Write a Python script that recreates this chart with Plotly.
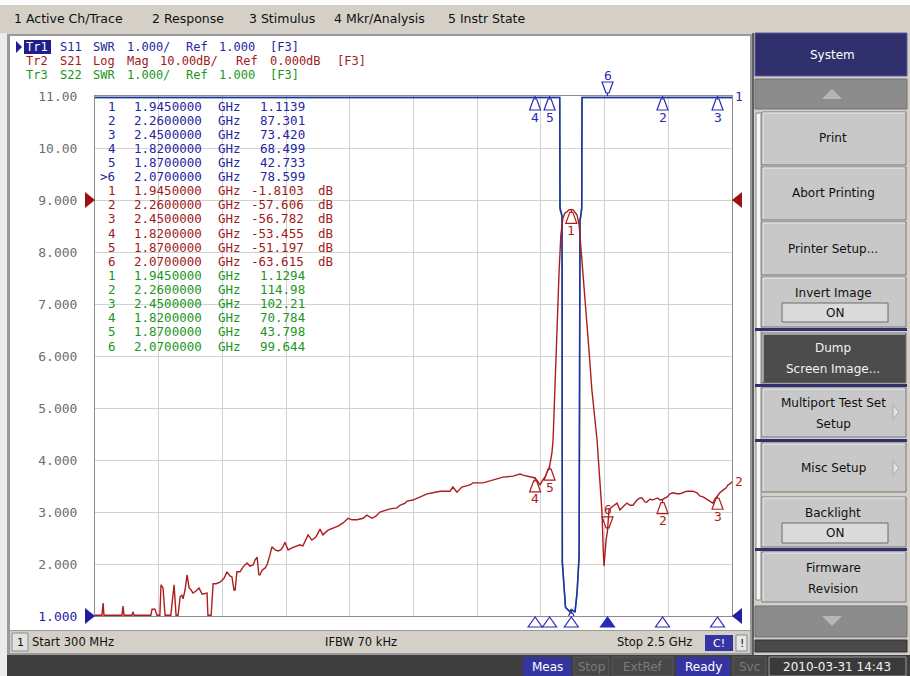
import numpy as np
import plotly.graph_objects as go

W, H = 910, 676

# ----------------------------- data -----------------------------
start_ghz = 0.3
stop_ghz = 2.5
freq_div_ghz = 0.22
swr_range = [1.0, 11.0]        # Tr1 / Tr3 : SWR 1.000/div, ref 1.000
db_range = [-80.0, 20.0]       # Tr2 : 10 dB/div, ref 0 dB

y_tick_vals = [1, 2, 3, 4, 5, 6, 7, 8, 9, 10, 11]
y_tick_labels = ["1.000", "2.000", "3.000", "4.000", "5.000", "6.000",
                 "7.000", "8.000", "9.000", "10.00", "11.00"]

marker_ids = ["1", "2", "3", "4", "5", "6"]
marker_ghz = [1.945, 2.26, 2.45, 1.82, 1.87, 2.07]
s11_marker_swr = [1.1139, 87.301, 73.420, 68.499, 42.733, 78.599]
s21_marker_db = [-1.8103, -57.606, -56.782, -53.455, -51.197, -63.615]
s22_marker_swr = [1.1294, 114.98, 102.21, 70.784, 43.798, 99.644]
active_marker = "6"

s21_ghz = [0.300, 0.324, 0.328, 0.331, 0.393, 0.397, 0.400, 0.428, 0.431, 0.435,
           0.493, 0.497, 0.507, 0.514, 0.524, 0.528, 0.535, 0.542, 0.562, 0.569,
           0.573, 0.580, 0.587, 0.594, 0.600, 0.604, 0.611, 0.618, 0.625, 0.632,
           0.638, 0.649, 0.659, 0.670, 0.680, 0.687, 0.690, 0.701, 0.708, 0.718,
           0.732, 0.746, 0.756, 0.766, 0.773, 0.780, 0.784, 0.790, 0.801, 0.811,
           0.825, 0.835, 0.846, 0.853, 0.860, 0.866, 0.870, 0.877, 0.887, 0.894,
           0.904, 0.911, 0.922, 0.932, 0.942, 0.949, 0.956, 0.967, 0.980, 0.998,
           1.008, 1.018, 1.029, 1.036, 1.049, 1.063, 1.077, 1.087, 1.105, 1.122,
           1.139, 1.157, 1.167, 1.174, 1.188, 1.205, 1.226, 1.239, 1.257, 1.270,
           1.284, 1.319, 1.343, 1.353, 1.371, 1.378, 1.398, 1.422, 1.447, 1.467,
           1.492, 1.526, 1.536, 1.550, 1.567, 1.595, 1.605, 1.640, 1.664, 1.688,
           1.709, 1.744, 1.768, 1.778, 1.802, 1.820, 1.830, 1.837, 1.847, 1.854,
           1.870, 1.878, 1.882, 1.889, 1.896, 1.903, 1.909, 1.916, 1.923, 1.930,
           1.937, 1.945, 1.951, 1.958, 1.965, 1.972, 1.982, 1.992, 2.006, 2.016,
           2.026, 2.034, 2.041, 2.044, 2.051, 2.055, 2.058, 2.065, 2.070, 2.075,
           2.086, 2.103, 2.113, 2.127, 2.137, 2.148, 2.158, 2.172, 2.182, 2.189,
           2.200, 2.206, 2.217, 2.224, 2.234, 2.244, 2.251, 2.260, 2.269, 2.276,
           2.286, 2.296, 2.310, 2.320, 2.334, 2.345, 2.355, 2.365, 2.379, 2.389,
           2.400, 2.406, 2.420, 2.434, 2.441, 2.450, 2.458, 2.469, 2.479, 2.486,
           2.493, 2.500]
s21_db = [-80.0, -80.0, -77.5, -80.0, -80.0, -78.1, -80.0, -80.0, -79.2, -80.0,
          -80.0, -78.7, -78.7, -80.0, -80.0, -74.0, -74.6, -80.0, -80.0, -75.6,
          -74.0, -80.0, -80.0, -76.3, -76.0, -76.7, -75.0, -72.1, -74.6, -75.0,
          -75.6, -75.2, -74.6, -75.8, -75.6, -75.6, -80.0, -80.0, -73.8, -73.8,
          -73.5, -72.7, -71.5, -72.3, -72.5, -75.0, -75.0, -71.5, -71.5, -70.6,
          -69.8, -70.4, -70.2, -69.2, -68.7, -72.1, -72.1, -71.2, -70.8, -70.2,
          -68.3, -66.7, -67.3, -67.5, -67.3, -66.7, -65.8, -67.3, -66.9, -66.5,
          -66.3, -66.5, -65.0, -64.4, -65.4, -64.8, -63.3, -64.4, -63.5, -63.1,
          -62.7, -62.1, -61.5, -61.2, -61.5, -61.5, -61.2, -60.6, -61.2, -60.8,
          -60.0, -59.4, -59.2, -58.7, -58.3, -57.9, -57.7, -57.1, -56.5, -56.3,
          -56.0, -56.0, -55.2, -56.2, -55.2, -54.8, -54.4, -54.4, -54.0, -53.5,
          -53.3, -53.1, -52.7, -52.9, -53.3, -53.455, -54.2, -54.8, -53.8, -53.3,
          -51.197, -48.7, -46.2, -34.6, -23.1, -13.5, -6.7, -3.5, -2.5, -2.3,
          -1.9, -1.8103, -1.9, -2.3, -2.9, -4.8, -11.5, -19.2, -28.8, -36.5,
          -42.3, -46.2, -51.9, -54.4, -60.0, -66.9, -70.4, -65.4, -63.615, -59.6,
          -59.0, -58.3, -59.6, -58.8, -58.3, -58.7, -58.7, -57.7, -57.3, -57.3,
          -58.1, -58.1, -57.5, -57.7, -57.5, -57.3, -57.7, -57.606, -57.3, -57.1,
          -56.5, -56.3, -56.5, -56.5, -56.2, -56.0, -56.0, -56.0, -56.3, -56.9,
          -57.1, -57.3, -57.7, -58.3, -57.5, -56.782, -56.3, -55.8, -55.4, -54.8,
          -54.6, -54.2]

s11_ghz = [0.30, 0.45, 0.60, 0.80, 1.00, 1.20, 1.40, 1.60, 1.70, 1.82, 1.87, 1.895,
           1.905, 1.906, 1.913, 1.914, 1.920, 1.925, 1.940, 1.945, 1.958, 1.965,
           1.972, 1.975, 1.981, 1.982, 2.00, 2.07, 2.15, 2.26, 2.35, 2.45, 2.50]
s11_swr = [96.0, 94.0, 91.0, 89.0, 86.0, 83.0, 79.0, 74.0, 71.0, 68.499, 42.733, 30.0,
           22.0, 8.85, 8.7, 2.04, 1.46, 1.17, 1.08, 1.1139, 1.08, 1.46,
           2.17, 8.6, 8.85, 24.0, 45.0, 78.599, 84.0, 87.301, 80.0, 73.420, 72.0]

s22_ghz = [0.30, 0.45, 0.60, 0.80, 1.00, 1.20, 1.40, 1.60, 1.70, 1.82, 1.87, 1.895,
           1.905, 1.906, 1.913, 1.914, 1.920, 1.925, 1.940, 1.945, 1.958, 1.965,
           1.972, 1.975, 1.981, 1.982, 2.00, 2.07, 2.15, 2.26, 2.35, 2.45, 2.50]
s22_swr = [110.0, 108.0, 105.0, 100.0, 95.0, 88.0, 80.0, 75.0, 72.0, 70.784, 43.798, 31.0,
           23.0, 8.82, 8.68, 2.02, 1.45, 1.16, 1.09, 1.1294, 1.09, 1.45,
           2.15, 8.58, 8.82, 26.0, 50.0, 99.644, 108.0, 114.98, 110.0, 102.21, 100.0]

menu_items = ["1 Active Ch/Trace", "2 Response", "3 Stimulus", "4 Mkr/Analysis", "5 Instr State"]
trace_headers = [("Tr1", "Tr1 S11 SWR 1.000/ Ref 1.000 [F3]"),
                 ("Tr2", "Tr2 S21 Log Mag 10.00dB/ Ref 0.000dB [F3]"),
                 ("Tr3", "Tr3 S22 SWR 1.000/ Ref 1.000 [F3]")]

# ----------------------------- style -----------------------------
BLUE = "#2a2ab8"
BLUE_T = "#2626a0"
RED = "#ac1e1e"
RED_T = "#a01a1a"
GREEN = "#1e9e1e"
GREEN_T = "#1c961c"
GRAY_BG = "#d4d0c8"
NAVY = "#30306c"
MONO = "DejaVu Sans Mono"
SANS = "DejaVu Sans"

# plot area in pixels
PX0, PX1, PY0, PY1 = 95, 732, 96, 616
dom_x = [PX0 / W, PX1 / W]
dom_y = [1 - PY1 / H, 1 - PY0 / H]


def X(p):
    return p / W


def Y(p):
    return 1 - p / H


shapes = []
ann = []


def R(x0, y0, x1, y1, fill, line=None, lw=1, layer="below"):
    shapes.append(dict(type="rect", xref="paper", yref="paper",
                       x0=X(x0), x1=X(x1), y0=Y(y1), y1=Y(y0),
                       fillcolor=fill, layer=layer,
                       line=dict(color=line if line else fill, width=lw if line else 0)))


def L(x0, y0, x1, y1, color, lw=1, layer="below"):
    shapes.append(dict(type="line", xref="paper", yref="paper",
                       x0=X(x0), x1=X(x1), y0=Y(y0), y1=Y(y1),
                       line=dict(color=color, width=lw), layer=layer))


def P(pts, fill, line=None, layer="above"):
    d = "M" + " L".join(f"{X(a):.5f},{Y(b):.5f}" for a, b in pts) + " Z"
    shapes.append(dict(type="path", xref="paper", yref="paper", path=d,
                       fillcolor=fill, layer=layer,
                       line=dict(color=line if line else fill, width=1 if line else 0)))


def T(x, y, s, size=12, color="#000000", fam=SANS, anchor="left"):
    ann.append(dict(x=X(x), y=Y(y), xref="paper", yref="paper", text=s,
                    showarrow=False, xanchor=anchor, yanchor="middle",
                    borderpad=0, borderwidth=0,
                    font=dict(family=fam, size=size, color=color)))


def mono_line(x0, y, s, color, cw=8.4, size=12.5, skip=()):
    i = 0
    n = len(s)
    while i < n:
        if s[i] == " ":
            i += 1
            continue
        j = i
        while j < n and s[j] != " ":
            j += 1
        tok = s[i:j]
        if tok not in skip:
            T(x0 + i * cw, y, tok, size=size, color=color, fam=MONO)
        i = j


def button(y0, y1, fill="#c8c8c8", x0=762, x1=906):
    R(x0, y0, x1, y1, fill, line="#767676")
    L(x0 + 1, y0 + 1, x1 - 1, y0 + 1, "#eeeeee")
    L(x0 + 1, y0 + 1, x0 + 1, y1 - 1, "#eeeeee")


# ----------------------------- frame / UI -----------------------------
R(0, 0, 910, 5, "#ffffff")
R(0, 5, 910, 33, GRAY_BG)
R(0, 33, 7, 676, "#ececec")
R(7, 34, 752, 655, "#9a9a9a")
R(10, 36, 750, 630, "#ffffff")
R(10, 631, 750, 653, GRAY_BG)
R(7, 655, 910, 676, "#3e3e3e")

x_menu = [14, 152, 249, 334, 448]
for xm, s in zip(x_menu, menu_items):
    T(xm, 18, s, size=12.5, color="#101010")

# right soft-key panel
R(752, 33, 910, 655, GRAY_BG)
L(753, 33, 753, 655, "#606060", lw=2)
R(755, 33, 907, 76, NAVY, line="#5a5a9a")
T(832, 55, "System", size=12, color="#ffffff", anchor="center")
R(755, 79, 907, 109, "#8c8c8c", line="#707070")
P([(822, 99), (832, 89), (842, 99)], "#b6b6b6")
R(756, 113, 761, 600, "#f6f6f6", line="#8a8a8a")

button(112, 165)
T(833, 138, "Print", size=12, color="#101010", anchor="center")
button(167, 220)
T(833, 193, "Abort Printing", size=12, color="#101010", anchor="center")
button(222, 275)
T(833, 249, "Printer Setup...", size=12, color="#101010", anchor="center")
button(277, 327)
T(833, 293, "Invert Image", size=12, color="#101010", anchor="center")
R(782, 303, 888, 322, "#dadada", line="#6a6a6a")
T(835, 313, "ON", size=12, color="#101010", anchor="center")
R(755, 328, 907, 331, NAVY)
button(333, 383, fill="#4c4c4c")
T(833, 348, "Dump", size=12, color="#f2f2f2", anchor="center")
T(833, 369, "Screen Image...", size=12, color="#f2f2f2", anchor="center")
R(755, 384, 907, 387, NAVY)
button(388, 437)
T(833, 403, "Multiport Test Set", size=12, color="#101010", anchor="center")
T(833, 424, "Setup", size=12, color="#101010", anchor="center")
P([(893, 405), (899, 412), (893, 419)], "#e4e4e4", line="#a8a8a8")
R(755, 439, 907, 442, NAVY)
button(443, 492)
T(833, 468, "Misc Setup", size=12, color="#101010", anchor="center")
P([(893, 461), (899, 468), (893, 475)], "#e4e4e4", line="#a8a8a8")
button(497, 547)
T(833, 513, "Backlight", size=12, color="#101010", anchor="center")
R(782, 523, 888, 543, "#dadada", line="#6a6a6a")
T(835, 533, "ON", size=12, color="#101010", anchor="center")
R(755, 548, 907, 551, NAVY)
button(552, 602)
T(833, 568, "Firmware", size=12, color="#101010", anchor="center")
T(833, 589, "Revision", size=12, color="#101010", anchor="center")
R(755, 606, 907, 637, "#8c8c8c", line="#707070")
P([(822, 616), (842, 616), (832, 626)], "#b6b6b6")
R(755, 640, 907, 652, "#4a4a4a", line="#2e2e2e")

# channel status bar
R(12, 633, 28, 651, "#e2e2e2", line="#8a8a8a")
T(20, 642, "1", size=11, color="#101010", anchor="center")
T(32, 642, "Start 300 MHz", size=11.5, color="#101010")
T(325, 642, "IFBW 70 kHz", size=11.5, color="#101010")
T(617, 642, "Stop 2.5 GHz", size=11.5, color="#101010")
R(705, 635, 733, 651, "#3434a4")
T(719, 643, "C!", size=11, color="#ffffff", anchor="center")
R(736, 635, 747, 651, "#e6e6e6", line="#8a8a8a")
T(741.5, 643, "!", size=11, color="#101010", anchor="center")

# instrument status bar
for (bx0, bx1, lab, on) in [(523, 571, "Meas", True), (574, 609, "Stop", False),
                            (612, 673, "ExtRef", False), (676, 730, "Ready", True),
                            (733, 766, "Svc", False)]:
    if on:
        R(bx0, 657, bx1, 676, "#3535a2")
        T((bx0 + bx1) / 2, 666.5, lab, size=12, color="#ffffff", anchor="center")
    else:
        R(bx0, 657, bx1, 676, "#474747", line="#5a5a5a")
        T((bx0 + bx1) / 2, 666.5, lab, size=12, color="#7a7a7a", anchor="center")
R(769, 657, 906, 676, "#3a3a3a", line="#9a9a9a")
T(837, 666.5, "2010-03-31 14:43", size=12, color="#f4f4f4", anchor="center")

# trace header lines
hdr_y = [46.5, 60.5, 74.5]
hdr_col = [BLUE_T, RED_T, GREEN_T]
R(24, 40, 51, 54, "#1e1e8c", layer="above")
P([(16, 41), (22, 47), (16, 53)], "#1e1e8c")
for (tag, s), yy, cc in zip(trace_headers, hdr_y, hdr_col):
    if tag == "Tr1":
        T(26, yy, "Tr1", size=12, color="#ffffff", fam=MONO)
        mono_line(26, yy, s, cc, size=12, skip=("Tr1",))
    else:
        mono_line(26, yy, s, cc, size=12)

# marker readout table
row_y0, row_dy = 106, 14.12
rows = []
for mid, f, v in zip(marker_ids, marker_ghz, s11_marker_swr):
    tag = (">" + mid) if mid == active_marker else mid
    rows.append((f"{tag:>2}  {f:.7f} GHz{format(v, '#.5g'):>8}", BLUE_T))
for mid, f, v in zip(marker_ids, marker_ghz, s21_marker_db):
    rows.append((f"{mid:>2}  {f:.7f} GHz{format(v, '#.5g'):>8} dB", RED_T))
for mid, f, v in zip(marker_ids, marker_ghz, s22_marker_swr):
    rows.append((f"{mid:>2}  {f:.7f} GHz{format(v, '#.5g'):>8}", GREEN_T))
for i, (s, c) in enumerate(rows):
    mono_line(100, row_y0 + row_dy * i, s, c)

# ----------------------------- traces -----------------------------
fig = go.Figure()
swr_top_draw = swr_range[1] - 0.03
db_floor_draw = db_range[0] + 0.15

fig.add_trace(go.Scatter(x=s22_ghz, y=np.minimum(np.array(s22_swr), swr_top_draw),
                         mode="lines", line=dict(color=GREEN, width=1.5),
                         hoverinfo="skip", showlegend=False))
fig.add_trace(go.Scatter(x=s11_ghz, y=np.minimum(np.array(s11_swr), swr_top_draw),
                         mode="lines", line=dict(color=BLUE, width=1.5),
                         hoverinfo="skip", showlegend=False))
fig.add_trace(go.Scatter(x=s21_ghz, y=np.maximum(np.array(s21_db), db_floor_draw),
                         yaxis="y2", mode="lines", line=dict(color=RED, width=1.4),
                         hoverinfo="skip", showlegend=False))


def glyph(f, v, yref, color, up=True, filled=False, label=None):
    d = -1 if up else 1
    path = (f"M0,0 L0,{3 * d} M-1.5,{3 * d} L-5.5,{14 * d} L5.5,{14 * d} "
            f"L1.5,{3 * d} Z")
    shapes.append(dict(type="path", xref="x", yref=yref, xsizemode="pixel",
                       ysizemode="pixel", xanchor=f, yanchor=v, path=path,
                       fillcolor=color if filled else "rgba(0,0,0,0)",
                       line=dict(color=color, width=1.2), layer="above"))
    if label is not None:
        ann.append(dict(x=f, y=v, xref="x", yref=yref, text=label, showarrow=False,
                        yshift=(21 * d), xanchor="center", yanchor="middle",
                        borderpad=0, borderwidth=0,
                        font=dict(family=MONO, size=13, color=color)))


# red (S21) markers on the trace
for mid, f, v in zip(marker_ids, marker_ghz, s21_marker_db):
    glyph(f, v, "y2", RED, up=(mid != active_marker), label=mid)

# blue (S11) markers; off-scale values sit on the top edge of the grid
for mid, f, v in zip(marker_ids, marker_ghz, s11_marker_swr):
    if v >= swr_range[1]:
        glyph(f, dom_y[1], "paper", BLUE, up=(mid != active_marker), label=mid)
    else:
        glyph(f, v, "y", BLUE, up=True, label=None)

# stimulus indicators under the grid
for mid, f in zip(marker_ids, marker_ghz):
    act = mid == active_marker
    shapes.append(dict(type="path", xref="x", yref="paper", xsizemode="pixel",
                       ysizemode="pixel", xanchor=f, yanchor=dom_y[0],
                       path="M0,-1 L-7,-11 L7,-11 Z",
                       fillcolor=BLUE if act else "#ffffff",
                       line=dict(color=BLUE, width=1.2), layer="above"))

# reference-position arrows
for xa, pth in [(dom_x[0], "M0,0 L-10,-8 L-10,8 Z"), (dom_x[1], "M0,0 L10,-8 L10,8 Z")]:
    shapes.append(dict(type="path", xref="paper", yref="paper", xsizemode="pixel",
                       ysizemode="pixel", xanchor=xa, yanchor=dom_y[0], path=pth,
                       fillcolor="#1e1ea0", line=dict(color="#1e1ea0", width=0),
                       layer="above"))
    shapes.append(dict(type="path", xref="paper", yref="y2", xsizemode="pixel",
                       ysizemode="pixel", xanchor=xa, yanchor=0.0, path=pth,
                       fillcolor="#a01010", line=dict(color="#a01010", width=0),
                       layer="above"))

# trace end labels
ann.append(dict(x=stop_ghz, y=swr_range[1], xref="x", yref="y", text="1",
                showarrow=False, xanchor="left", yanchor="middle", xshift=3,
                borderpad=0, borderwidth=0, font=dict(family=MONO, size=13, color=BLUE)))
ann.append(dict(x=s21_ghz[-1], y=s21_db[-1], xref="x", yref="y2", text="2",
                showarrow=False, xanchor="left", yanchor="middle", xshift=3,
                borderpad=0, borderwidth=0, font=dict(family=MONO, size=13, color=RED)))

tick_text = [f'<span style="color:#2424a8">{t}</span>' if v == swr_range[0] else t
             for v, t in zip(y_tick_vals, y_tick_labels)]

fig.update_layout(
    width=W, height=H, autosize=False,
    margin=dict(l=0, r=0, t=0, b=0, pad=0, autoexpand=False),
    paper_bgcolor=GRAY_BG, plot_bgcolor="#ffffff",
    showlegend=False,
    xaxis=dict(domain=dom_x, range=[start_ghz, stop_ghz], tick0=start_ghz,
               dtick=freq_div_ghz, showticklabels=False, ticks="",
               showgrid=True, gridcolor="#d2d2d2", gridwidth=1.2, zeroline=False,
               showline=True, linecolor="#8c8c8c", linewidth=1, mirror=True,
               fixedrange=True, automargin=False),
    yaxis=dict(domain=dom_y, range=swr_range, tickvals=y_tick_vals,
               ticktext=tick_text, ticks="", ticklabelstandoff=14,
               tickfont=dict(family=MONO, size=13, color="#6e6e6e"),
               showgrid=True, gridcolor="#d2d2d2", gridwidth=1.2, zeroline=False,
               showline=True, linecolor="#8c8c8c", linewidth=1, mirror=True,
               fixedrange=True, automargin=False),
    yaxis2=dict(range=db_range, overlaying="y", visible=False, showgrid=False,
                zeroline=False, fixedrange=True),
    shapes=shapes,
    annotations=ann,
)

page_fix = ("var de=document.documentElement, b=document.body;"
            "de.style.margin='0'; de.style.padding='0'; de.style.overflow='hidden';"
            "b.style.margin='0'; b.style.padding='0'; b.style.overflow='hidden';")

fig.write_html("out.html", config={"displayModeBar": False, "responsive": False},
               post_script=page_fix)
